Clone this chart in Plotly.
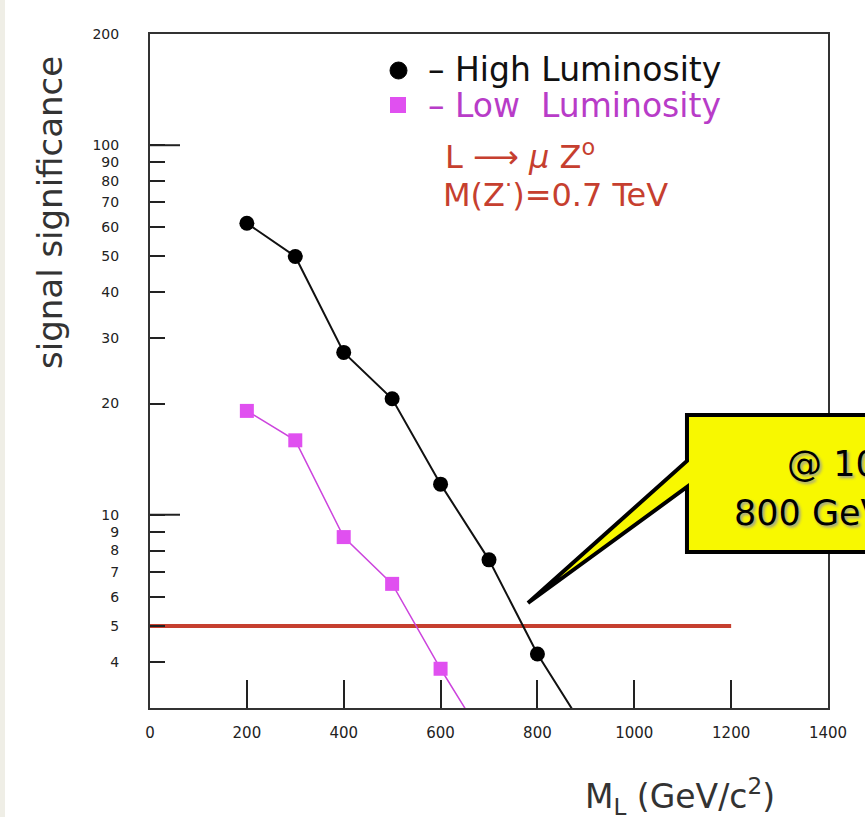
import plotly.graph_objects as go

# ---- data ----
mass = [200, 300, 400, 500, 600, 700, 800, 900]
high_lumi = [61.5, 50.0, 27.5, 20.6, 12.1, 7.55, 4.2, 2.6]
mass_low = [200, 300, 400, 500, 600, 700]
low_lumi = [19.1, 15.9, 8.7, 6.5, 3.83, 2.35]
five_sigma_x = [0, 1200]
five_sigma_y = [5, 5]
x_ticks = [0, 200, 400, 600, 800, 1000, 1200, 1400]
y_ticks = [4, 5, 6, 7, 8, 9, 10, 20, 30, 40, 50, 60, 70, 80, 90, 100, 200]
y_long_ticks = [10, 100]

W, H = 865, 817
L, R, T, B = 150, 37, 34, 109
PW, PH = W - L - R, H - T - B


def px(x):
    return (x - L) / PW


def py(y):
    return (H - B - y) / PH


RED = "#c63f2f"
MAG_LINE = "#cc44dd"
MAG_MARK = "#e050f0"
FONT = "DejaVu Sans, Verdana, sans-serif"

fig = go.Figure()
fig.add_trace(go.Scatter(x=five_sigma_x, y=five_sigma_y, mode="lines",
                         line=dict(color=RED, width=4), showlegend=False))
fig.add_trace(go.Scatter(x=mass, y=high_lumi, mode="lines+markers",
                         line=dict(color="#111", width=2),
                         marker=dict(symbol="circle", size=15, color="#000"),
                         showlegend=False))
fig.add_trace(go.Scatter(x=mass_low, y=low_lumi, mode="lines+markers",
                         line=dict(color=MAG_LINE, width=1.5),
                         marker=dict(symbol="square", size=14, color=MAG_MARK),
                         showlegend=False))

shapes = []
# left beige strip
shapes.append(dict(type="rect", xref="paper", yref="paper", x0=px(0), x1=px(5),
                   y0=py(0), y1=py(H), fillcolor="#efeee6", line=dict(width=0), layer="below"))
# long y ticks at decades
for v in y_long_ticks:
    shapes.append(dict(type="line", xref="paper", yref="y", x0=0, x1=30 / PW,
                       y0=v, y1=v, line=dict(color="#222", width=2)))
# callout box with pointer
bx0, by0, bx1, by1 = 687, 415, 1010, 552
tip = (528, 603)
pts = [(bx0, by0), (bx1, by0), (bx1, by1), (bx0, by1), (bx0, 487), tip, (bx0, 461)]
path = "M " + " L ".join(f"{px(a):.4f},{py(b):.4f}" for a, b in pts) + " Z"
shapes.append(dict(type="path", xref="paper", yref="paper", path=path,
                   fillcolor="#f8f800", line=dict(color="#000", width=4)))
# legend markers
shapes.append(dict(type="circle", xref="paper", yref="paper",
                   x0=px(390), x1=px(407), y0=py(62), y1=py(79),
                   fillcolor="#000", line=dict(color="#000", width=1)))
shapes.append(dict(type="rect", xref="paper", yref="paper",
                   x0=px(390), x1=px(406), y0=py(97), y1=py(113),
                   fillcolor=MAG_MARK, line=dict(width=0)))

ann = []
ann.append(dict(xref="paper", yref="paper", x=px(426), y=py(70), xanchor="left", yanchor="middle",
                text="– High Luminosity", showarrow=False,
                font=dict(family=FONT, size=33, color="#111")))
ann.append(dict(xref="paper", yref="paper", x=px(426), y=py(105), xanchor="left", yanchor="middle",
                text="– Low  Luminosity", showarrow=False,
                font=dict(family=FONT, size=33, color="#b83cc8")))
ann.append(dict(xref="paper", yref="paper", x=px(443), y=py(155), xanchor="left", yanchor="middle",
                text="L ⟶ <i>μ</i> Z<sup>o</sup>", showarrow=False,
                font=dict(family=FONT, size=32, color=RED)))
ann.append(dict(xref="paper", yref="paper", x=px(441), y=py(193), xanchor="left", yanchor="middle",
                text="M(Z<sup>·</sup>)=0.7 TeV", showarrow=False,
                font=dict(family=FONT, size=32, color=RED)))
ann.append(dict(xref="paper", yref="paper", x=px(50), y=py(213), xanchor="center", yanchor="middle",
                text="signal significance", textangle=-90, showarrow=False,
                font=dict(family=FONT, size=34, color="#333")))
ann.append(dict(xref="paper", yref="paper", x=px(583), y=py(796), xanchor="left", yanchor="middle",
                text="M<sub>L</sub> (GeV/c<sup>2</sup>)", showarrow=False,
                font=dict(family=FONT, size=33, color="#333")))
ann.append(dict(xref="x", yref="y", x=1319, y=5.39, xanchor="center", yanchor="middle",
                text="5 σ", showarrow=False,
                font=dict(family=FONT, size=40, color="#b84a40")))
ann.append(dict(xref="paper", yref="paper", x=px(785), y=py(461), xanchor="left", yanchor="middle",
                text="@ 100 fb<sup>-1</sup>", showarrow=False,
                font=dict(family=FONT, size=35, color="#000", shadow="2px 2px 3px #999")))
ann.append(dict(xref="paper", yref="paper", x=px(732), y=py(513), xanchor="left", yanchor="middle",
                text="800 GeV reach", showarrow=False,
                font=dict(family=FONT, size=35, color="#000", shadow="2px 2px 3px #999")))

fig.update_layout(
    width=W, height=H, margin=dict(l=L, r=R, t=T, b=B, pad=0),
    paper_bgcolor="#ffffff", plot_bgcolor="#ffffff",
    shapes=shapes, annotations=ann, showlegend=False,
    font=dict(family=FONT),
)
fig.update_xaxes(range=[0, 1400], tickvals=x_ticks, ticktext=[str(v) for v in x_ticks],
                 ticks="inside", ticklen=28, tickwidth=2, tickcolor="#222",
                 showgrid=False, zeroline=False, showline=True, linecolor="#333",
                 linewidth=2, mirror=True, tickfont=dict(size=15, color="#222"),
                 ticklabelstandoff=10)
fig.update_yaxes(type="log", range=[0.477, 2.301], tickvals=y_ticks,
                 ticktext=[str(v) for v in y_ticks],
                 ticks="inside", ticklen=15, tickwidth=2, tickcolor="#222",
                 showgrid=False, zeroline=False, showline=True, linecolor="#333",
                 linewidth=2, mirror=True, tickfont=dict(size=14, color="#222"),
                 ticklabelstandoff=26)

fig.write_html("out.html")
